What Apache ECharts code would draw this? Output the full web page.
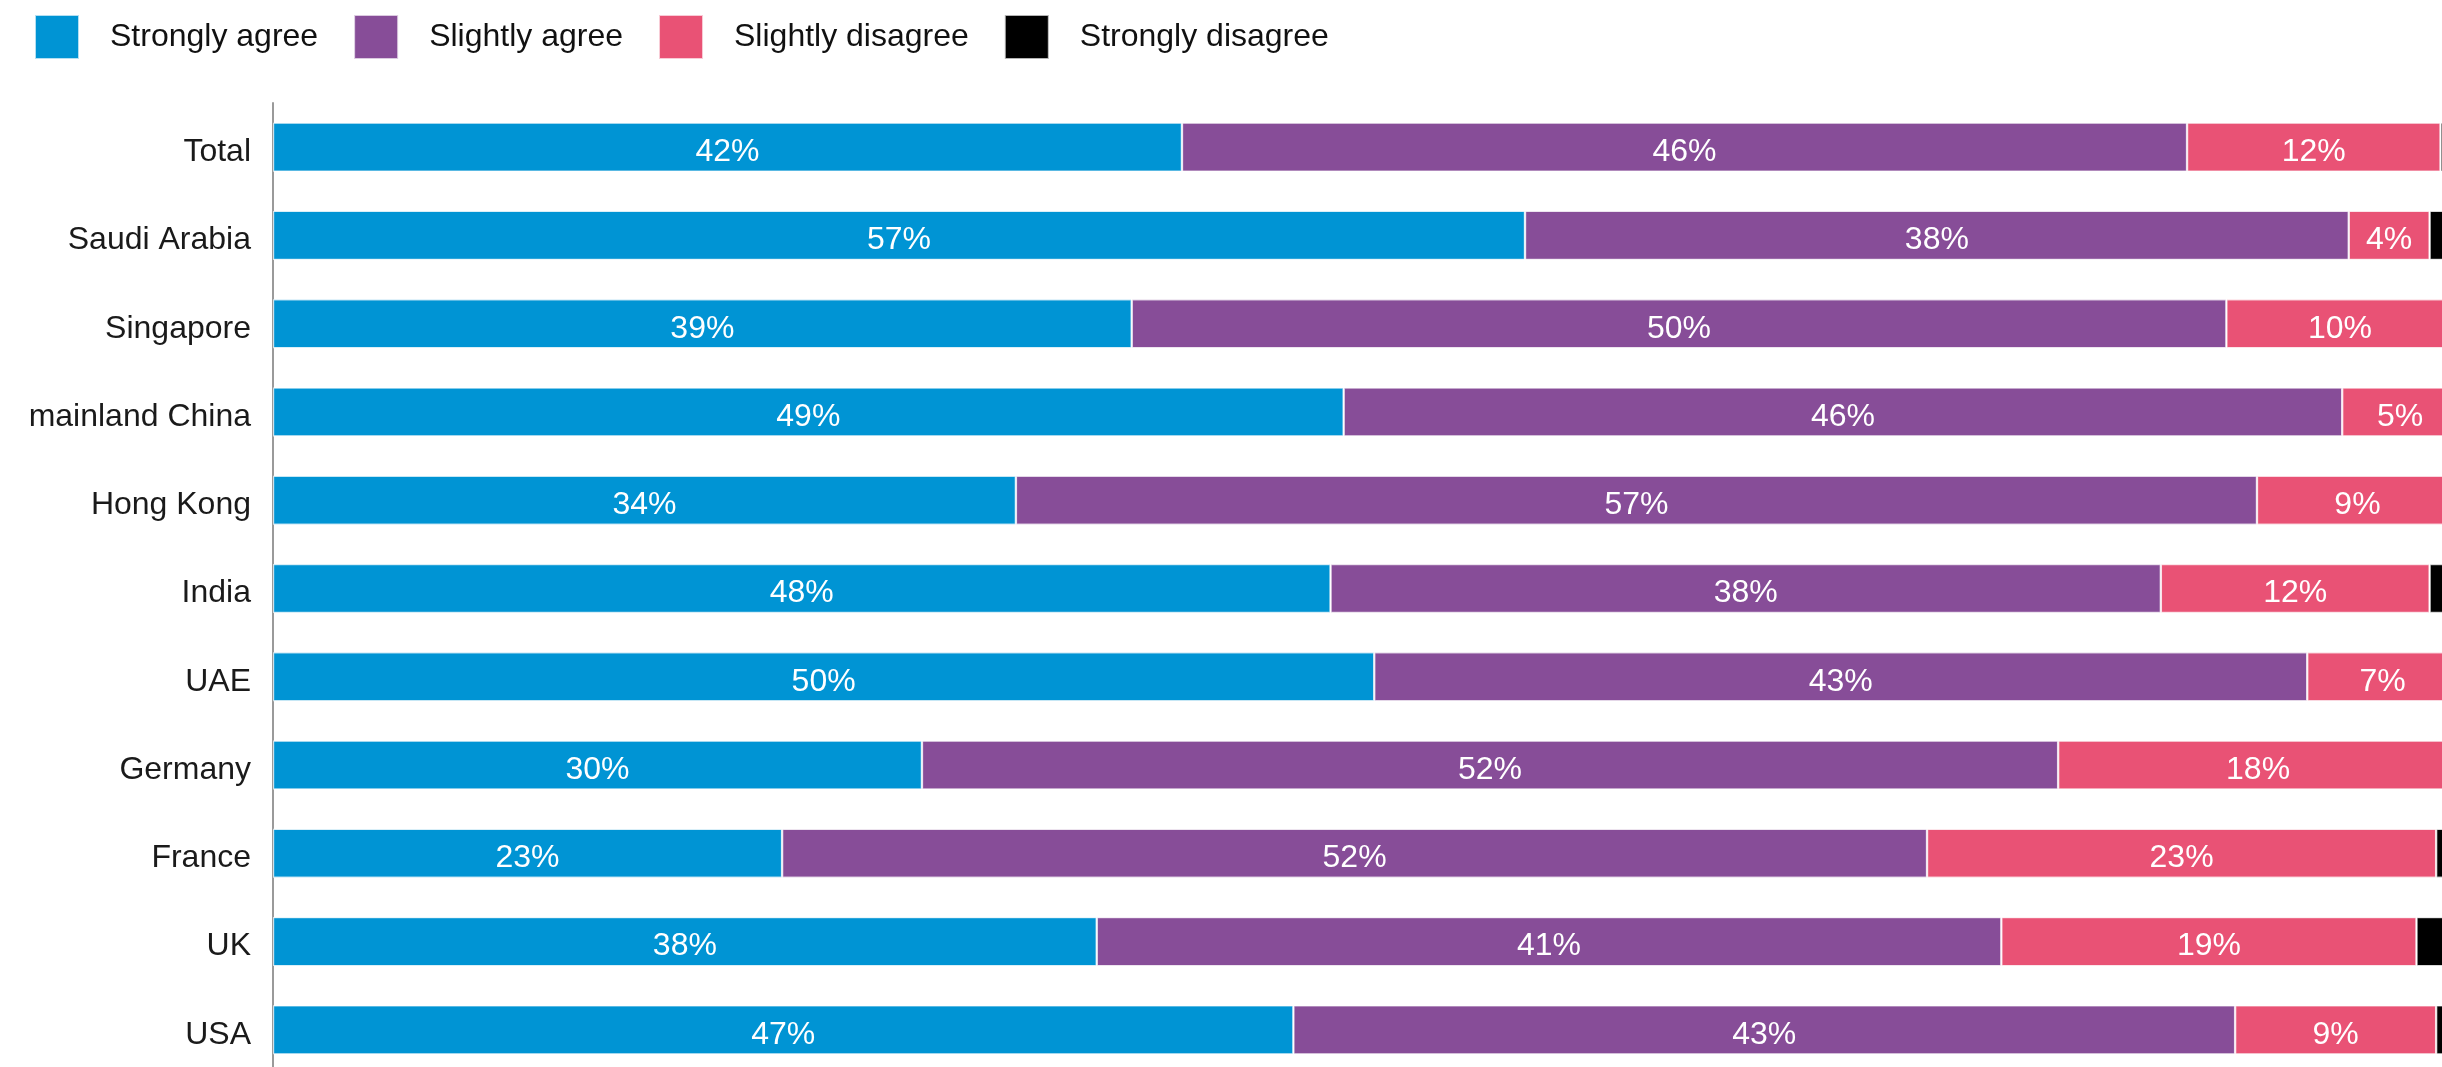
<!DOCTYPE html>
<html><head><meta charset="utf-8">
<script src="https://cdn.jsdelivr.net/npm/echarts@6/dist/echarts.min.js"></script>
<style>html,body{margin:0;padding:0;background:#fff;}#c{width:2442px;height:1067px;}</style>
</head><body><div id="c"></div>
<script>
const categories = ['Total','Saudi Arabia','Singapore','mainland China','Hong Kong','India','UAE','Germany','France','UK','USA'];
const seriesNames = ['Strongly agree','Slightly agree','Slightly disagree','Strongly disagree'];
const stronglyAgree   = [41.6, 57.3, 39.3, 49.0, 34.0, 48.4, 50.4, 29.7, 23.3, 37.7, 46.7];
const slightlyAgree   = [46.0, 37.7, 50.1, 45.7, 56.8, 38.0, 42.7, 52.0, 52.4, 41.4, 43.1];
const slightlyDisagree= [11.6, 3.7, 10.4, 5.3, 9.2, 12.3, 6.9, 18.3, 23.3, 19.0, 9.2];
const stronglyDisagree= [0.3, 1.3, 0.2, 0.0, 0.0, 1.3, 0.0, 0.0, 1.0, 1.9, 1.0];
const colors = ['#0094D4','#874D98','#E95275','#000000'];

const FONT = 'Liberation Sans';
const chart = echarts.init(document.getElementById('c'));
const allData = [stronglyAgree, slightlyAgree, slightlyDisagree, stronglyDisagree];
chart.setOption({
  animation: false,
  textStyle: {fontFamily: FONT},
  legend: {
    left: 34, top: 14, padding: 0, itemWidth: 44, itemHeight: 44, itemGap: 35, icon: 'rect',
    textStyle: {fontFamily: FONT, fontSize: 32, color: '#111', padding: [4,0,0,26]},
    data: seriesNames
  },
  grid: {left: 273, top: 103, width: 2185, height: 971, containLabel: false, outerBoundsMode: 'none'},
  xAxis: {type: 'value', min: 0, max: 100, show: false},
  yAxis: {
    type: 'category', data: categories, inverse: true,
    axisLine: {show: true, lineStyle: {color: '#9a9a9a', width: 2}},
    axisTick: {show: false},
    axisLabel: {fontFamily: FONT, fontSize: 32, color: '#1a1a1a', margin: 22, verticalAlign: 'top', lineHeight: 10}
  },
  series: seriesNames.map((n, i) => ({
    name: n, type: 'bar', stack: 'all', barWidth: 49,
    itemStyle: {color: colors[i], borderColor: 'rgba(255,255,255,0.7)', borderWidth: 1.2},
    label: {
      show: i < 3, position: 'inside', color: '#fff', fontFamily: FONT, fontSize: 32, offset: [0, 5],
      formatter: p => p.value >= 3 ? Math.round(p.value) + '%' : ''
    },
    data: allData[i]
  }))
});
</script></body></html>
